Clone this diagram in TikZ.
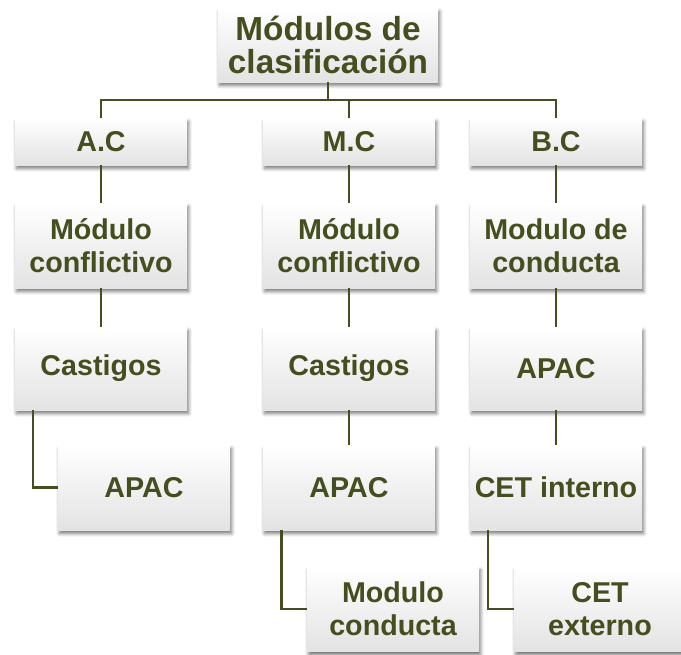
\documentclass[tikz,border=0pt]{standalone}
\usepackage{fontspec}
\setmainfont{Liberation Sans}
\usetikzlibrary{shadows.blur}
\definecolor{olive}{RGB}{68,78,30}
\tikzset{
  box/.style={rectangle, top color=white, bottom color=black!11, minimum width=129pt,
    inner sep=1pt, align=center, text=olive, font=\bfseries\fontsize{21.5}{24.7}\selectfont,
    blur shadow={shadow xshift=1.2pt, shadow yshift=-2.6pt, shadow blur radius=2.6pt, shadow opacity=55}},
  rowa/.style={box, minimum height=35.25pt},
  rowb/.style={box, minimum height=63.75pt},
  rowc/.style={box, minimum height=62.25pt},
  link/.style={draw=olive, line width=1.8pt}
}
\begin{document}
\begin{tikzpicture}[x=0.75pt,y=-0.75pt]
\useasboundingbox (0,0) rectangle (681,654);
\node[box, minimum width=165pt, minimum height=55.5pt, font=\bfseries\fontsize{25}{24.5}\selectfont] (top) at (328,45) {Módulos de\\clasificación};
\coordinate (bus) at (328,100);
% row 1
\node[rowa] (ac) at (101,141.5) {A.C};
\node[rowa] (mc) at (349,141.5) {M.C};
\node[rowa] (bc) at (556,141.5) {B.C};
% row 2
\node[rowb] (a2) at (101,245.5) {Módulo\\conflictivo};
\node[rowb] (m2) at (349,245.5) {Módulo\\conflictivo};
\node[rowb] (b2) at (556,245.5) {Modulo de\\conducta};
% row 3
\node[rowc] (a3) at (101,368.5) {Castigos};
\node[rowc] (m3) at (349,368.5) {Castigos};
\node[rowc] (b3) at (556,368.5) {APAC};
% row 4
\node[rowb] (a4) at (144,487.5) {APAC};
\node[rowb] (m4) at (349,487.5) {APAC};
\node[rowb] (b4) at (556,487.5) {CET interno};
% row 5
\node[rowb] (m5) at (393,609) {Modulo\\conducta};
\node[rowb] (b5) at (600,609) {CET\\externo};
% connectors
\draw[link] (top.south) -- (bus);
\draw[link, line cap=rect] (bus -| ac) -- (bus -| bc);
\draw[link] (bus -| ac) -- (ac.north);
\draw[link] (bus -| mc) -- (mc.north);
\draw[link] (bus -| bc) -- (bc.north);
\draw[link] (ac) -- (a2);
\draw[link] (mc) -- (m2);
\draw[link] (bc) -- (b2);
\draw[link] (a2) -- (a3);
\draw[link] (m2) -- (m3);
\draw[link] (b2) -- (b3);
\draw[link] (m3) -- (m4);
\draw[link] (b3) -- (b4);
\draw[link] ([xshift=13.5pt]a3.south west) |- (a4.west);
\draw[link] ([xshift=14pt]m4.south west) |- (m5.west);
\draw[link] ([xshift=13.5pt]b4.south west) |- (b5.west);
\end{tikzpicture}
\end{document}
